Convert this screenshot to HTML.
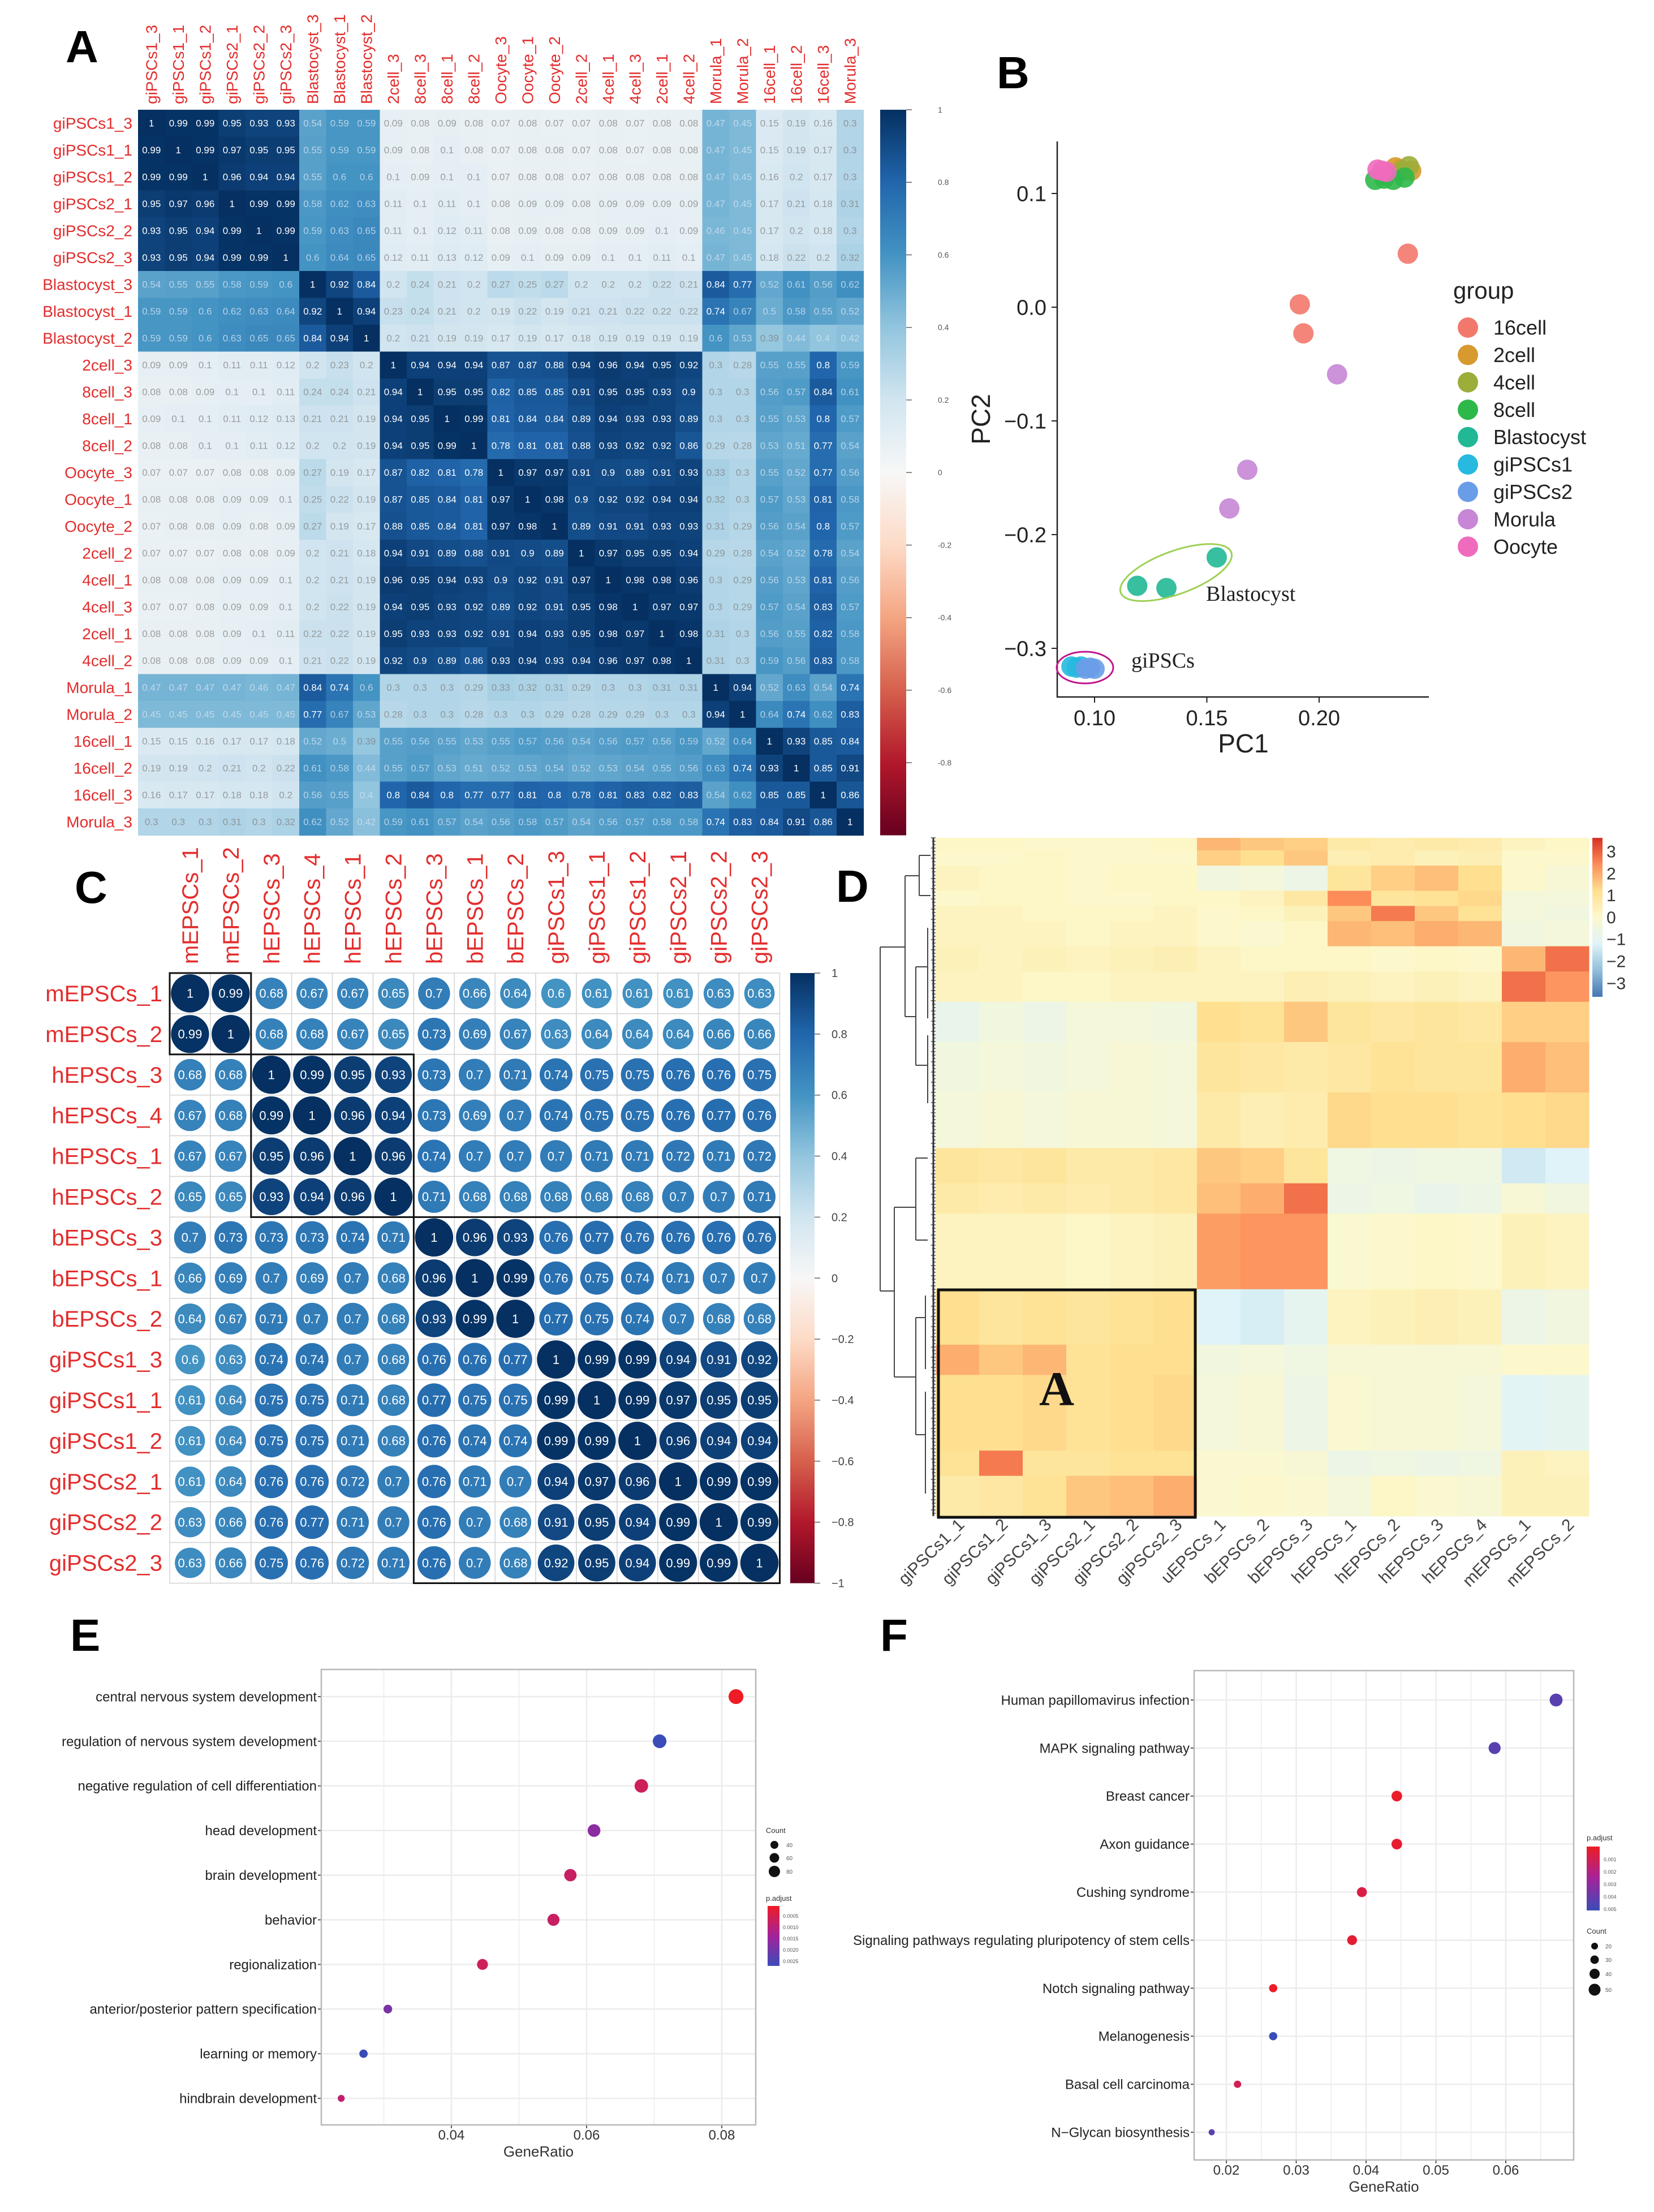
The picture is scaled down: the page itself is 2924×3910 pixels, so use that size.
<!DOCTYPE html>
<html><head><meta charset="utf-8">
<style>
html,body{margin:0;padding:0;background:#fff;}
svg{display:block;font-family:"Liberation Sans",Arial,sans-serif;}
</style></head>
<body>
<svg id="fig" xmlns="http://www.w3.org/2000/svg" width="2924" height="3910" viewBox="0 0 2924 3910">
<rect x="0" y="0" width="2924" height="3910" fill="#fff"/>
<text x="116" y="110" font-size="80" font-weight="bold">A</text>
<text x="1762" y="156" font-size="80" font-weight="bold">B</text>
<text x="132" y="1596" font-size="80" font-weight="bold">C</text>
<text x="1478" y="1594" font-size="80" font-weight="bold">D</text>
<text x="124" y="2918" font-size="80" font-weight="bold">E</text>
<text x="1556" y="2918" font-size="80" font-weight="bold">F</text>
<g id="gA"></g>
<g id="gB"></g>
<g id="gC"></g>
<g id="gD"></g>
<g id="gE"></g>
<g id="gF"></g>
</svg>
<script>
// ---------- DATA ----------
const aLabels = ["giPSCs1_3","giPSCs1_1","giPSCs1_2","giPSCs2_1","giPSCs2_2","giPSCs2_3","Blastocyst_3","Blastocyst_1","Blastocyst_2","2cell_3","8cell_3","8cell_1","8cell_2","Oocyte_3","Oocyte_1","Oocyte_2","2cell_2","4cell_1","4cell_3","2cell_1","4cell_2","Morula_1","Morula_2","16cell_1","16cell_2","16cell_3","Morula_3"];
const aMatrix = [
[1,.99,.99,.95,.93,.93,.54,.59,.59,.09,.08,.09,.08,.07,.08,.07,.07,.08,.07,.08,.08,.47,.45,.15,.19,.16,.3],
[.99,1,.99,.97,.95,.95,.55,.59,.59,.09,.08,.1,.08,.07,.08,.08,.07,.08,.07,.08,.08,.47,.45,.15,.19,.17,.3],
[.99,.99,1,.96,.94,.94,.55,.6,.6,.1,.09,.1,.1,.07,.08,.08,.07,.08,.08,.08,.08,.47,.45,.16,.2,.17,.3],
[.95,.97,.96,1,.99,.99,.58,.62,.63,.11,.1,.11,.1,.08,.09,.09,.08,.09,.09,.09,.09,.47,.45,.17,.21,.18,.31],
[.93,.95,.94,.99,1,.99,.59,.63,.65,.11,.1,.12,.11,.08,.09,.08,.08,.09,.09,.1,.09,.46,.45,.17,.2,.18,.3],
[.93,.95,.94,.99,.99,1,.6,.64,.65,.12,.11,.13,.12,.09,.1,.09,.09,.1,.1,.11,.1,.47,.45,.18,.22,.2,.32],
[.54,.55,.55,.58,.59,.6,1,.92,.84,.2,.24,.21,.2,.27,.25,.27,.2,.2,.2,.22,.21,.84,.77,.52,.61,.56,.62],
[.59,.59,.6,.62,.63,.64,.92,1,.94,.23,.24,.21,.2,.19,.22,.19,.21,.21,.22,.22,.22,.74,.67,.5,.58,.55,.52],
[.59,.59,.6,.63,.65,.65,.84,.94,1,.2,.21,.19,.19,.17,.19,.17,.18,.19,.19,.19,.19,.6,.53,.39,.44,.4,.42],
[.09,.09,.1,.11,.11,.12,.2,.23,.2,1,.94,.94,.94,.87,.87,.88,.94,.96,.94,.95,.92,.3,.28,.55,.55,.8,.59],
[.08,.08,.09,.1,.1,.11,.24,.24,.21,.94,1,.95,.95,.82,.85,.85,.91,.95,.95,.93,.9,.3,.3,.56,.57,.84,.61],
[.09,.1,.1,.11,.12,.13,.21,.21,.19,.94,.95,1,.99,.81,.84,.84,.89,.94,.93,.93,.89,.3,.3,.55,.53,.8,.57],
[.08,.08,.1,.1,.11,.12,.2,.2,.19,.94,.95,.99,1,.78,.81,.81,.88,.93,.92,.92,.86,.29,.28,.53,.51,.77,.54],
[.07,.07,.07,.08,.08,.09,.27,.19,.17,.87,.82,.81,.78,1,.97,.97,.91,.9,.89,.91,.93,.33,.3,.55,.52,.77,.56],
[.08,.08,.08,.09,.09,.1,.25,.22,.19,.87,.85,.84,.81,.97,1,.98,.9,.92,.92,.94,.94,.32,.3,.57,.53,.81,.58],
[.07,.08,.08,.09,.08,.09,.27,.19,.17,.88,.85,.84,.81,.97,.98,1,.89,.91,.91,.93,.93,.31,.29,.56,.54,.8,.57],
[.07,.07,.07,.08,.08,.09,.2,.21,.18,.94,.91,.89,.88,.91,.9,.89,1,.97,.95,.95,.94,.29,.28,.54,.52,.78,.54],
[.08,.08,.08,.09,.09,.1,.2,.21,.19,.96,.95,.94,.93,.9,.92,.91,.97,1,.98,.98,.96,.3,.29,.56,.53,.81,.56],
[.07,.07,.08,.09,.09,.1,.2,.22,.19,.94,.95,.93,.92,.89,.92,.91,.95,.98,1,.97,.97,.3,.29,.57,.54,.83,.57],
[.08,.08,.08,.09,.1,.11,.22,.22,.19,.95,.93,.93,.92,.91,.94,.93,.95,.98,.97,1,.98,.31,.3,.56,.55,.82,.58],
[.08,.08,.08,.09,.09,.1,.21,.22,.19,.92,.9,.89,.86,.93,.94,.93,.94,.96,.97,.98,1,.31,.3,.59,.56,.83,.58],
[.47,.47,.47,.47,.46,.47,.84,.74,.6,.3,.3,.3,.29,.33,.32,.31,.29,.3,.3,.31,.31,1,.94,.52,.63,.54,.74],
[.45,.45,.45,.45,.45,.45,.77,.67,.53,.28,.3,.3,.28,.3,.3,.29,.28,.29,.29,.3,.3,.94,1,.64,.74,.62,.83],
[.15,.15,.16,.17,.17,.18,.52,.5,.39,.55,.56,.55,.53,.55,.57,.56,.54,.56,.57,.56,.59,.52,.64,1,.93,.85,.84],
[.19,.19,.2,.21,.2,.22,.61,.58,.44,.55,.57,.53,.51,.52,.53,.54,.52,.53,.54,.55,.56,.63,.74,.93,1,.85,.91],
[.16,.17,.17,.18,.18,.2,.56,.55,.4,.8,.84,.8,.77,.77,.81,.8,.78,.81,.83,.82,.83,.54,.62,.85,.85,1,.86],
[.3,.3,.3,.31,.3,.32,.62,.52,.42,.59,.61,.57,.54,.56,.58,.57,.54,.56,.57,.58,.58,.74,.83,.84,.91,.86,1]];
const aTicks = [1,0.8,0.6,0.4,0.2,0,-0.2,-0.4,-0.6,-0.8];

const bGroups = ["16cell","2cell","4cell","8cell","Blastocyst","giPSCs1","giPSCs2","Morula","Oocyte"];
const bColors = ["#f2786c","#d69a2e","#9cad3a","#2fb84a","#22b896","#27b9df","#6a9de8","#c786d6","#ef6bbd"];
const bPC1 = [0.2395,0.1914,0.193, 0.234,0.241,0.236, 0.240,0.237, 0.225,0.229,0.233,0.238, 0.1544,0.119,0.132, 0.0897,0.092,0.094, 0.096,0.098,0.100, 0.208,0.168,0.160, 0.226,0.228,0.230];
const bPC2 = [0.047,0.0025,-0.023, 0.123,0.12,0.121, 0.124,0.12, 0.112,0.113,0.112,0.114, -0.220,-0.245,-0.247, -0.316,-0.317,-0.316, -0.318,-0.317,-0.318, -0.059,-0.143,-0.177, 0.121,0.120,0.119];
const bGroupIdx = [0,0,0, 1,1,1, 2,2, 3,3,3,3, 4,4,4, 5,5,5, 6,6,6, 7,7,7, 8,8,8];
const bXTicks = [0.10,0.15,0.20];
const bYTicks = [0.1,0.0,-0.1,-0.2,-0.3];

const cLabels = ["mEPSCs_1","mEPSCs_2","hEPSCs_3","hEPSCs_4","hEPSCs_1","hEPSCs_2","bEPSCs_3","bEPSCs_1","bEPSCs_2","giPSCs1_3","giPSCs1_1","giPSCs1_2","giPSCs2_1","giPSCs2_2","giPSCs2_3"];
const cMatrix = [
[1,.99,.68,.67,.67,.65,.7,.66,.64,.6,.61,.61,.61,.63,.63],
[.99,1,.68,.68,.67,.65,.73,.69,.67,.63,.64,.64,.64,.66,.66],
[.68,.68,1,.99,.95,.93,.73,.7,.71,.74,.75,.75,.76,.76,.75],
[.67,.68,.99,1,.96,.94,.73,.69,.7,.74,.75,.75,.76,.77,.76],
[.67,.67,.95,.96,1,.96,.74,.7,.7,.7,.71,.71,.72,.71,.72],
[.65,.65,.93,.94,.96,1,.71,.68,.68,.68,.68,.68,.7,.7,.71],
[.7,.73,.73,.73,.74,.71,1,.96,.93,.76,.77,.76,.76,.76,.76],
[.66,.69,.7,.69,.7,.68,.96,1,.99,.76,.75,.74,.71,.7,.7],
[.64,.67,.71,.7,.7,.68,.93,.99,1,.77,.75,.74,.7,.68,.68],
[.6,.63,.74,.74,.7,.68,.76,.76,.77,1,.99,.99,.94,.91,.92],
[.61,.64,.75,.75,.71,.68,.77,.75,.75,.99,1,.99,.97,.95,.95],
[.61,.64,.75,.75,.71,.68,.76,.74,.74,.99,.99,1,.96,.94,.94],
[.61,.64,.76,.76,.72,.7,.76,.71,.7,.94,.97,.96,1,.99,.99],
[.63,.66,.76,.77,.71,.7,.76,.7,.68,.91,.95,.94,.99,1,.99],
[.63,.66,.75,.76,.72,.71,.76,.7,.68,.92,.95,.94,.99,.99,1]];
const cBlocks = [[0,1],[2,5],[6,14]];
const cTicks = [1,0.8,0.6,0.4,0.2,0,-0.2,-0.4,-0.6,-0.8,-1];

const dCols = ["giPSCs1_1","giPSCs1_2","giPSCs1_3","giPSCs2_1","giPSCs2_2","giPSCs2_3","uEPSCs_1","bEPSCs_2","bEPSCs_3","hEPSCs_1","hEPSCs_2","hEPSCs_3","hEPSCs_4","mEPSCs_1","mEPSCs_2"];
const dBandGenes = [5,6,10,6,6,10,10,12,16,20,22,14,12,30,22,12,30,10,16];
const dBandValues = [
[.1,.1,0,0,0,.1, 1.5,1.3,1.2, .6,.5,.6,.5, .2,.1],
[0,0,.1,0,0,0, 1.2,1.0,1.3, .4,.5,.3,.4, 0,0],
[.2,.1,.1,0,.1,.1, -.4,-.3,-.6, .8,1.2,1.4,1.0, 0,-.2],
[0,.1,.1,0,0,.1, .1,.2,.7, 2.0,.8,.9,1.1, -.3,-.3],
[.2,.2,.1,.1,.1,.2, 0,.1,.3, 1.3,2.2,1.3,.9, -.3,-.4],
[.2,.2,.2,.1,.2,.2, 0,-.1,.1, 1.5,1.4,1.6,1.5, -.4,-.3],
[.3,.2,.3,.2,.3,.4, .2,.1,.1, .1,0,.1,0, 1.5,2.3],
[.2,.2,.1,.1,.2,.2, .2,.2,.4, .3,.2,.3,.2, 2.3,1.9],
[-.7,-.4,-.6,-.3,-.3,-.4, 1.0,.9,1.3, .8,.7,.8,.7, 1.2,1.2],
[-.4,-.3,-.4,-.3,-.2,-.3, .8,.7,.6, .7,.9,.8,.8, 1.6,1.4],
[-.3,-.2,-.3,-.2,-.2,-.3, .6,.4,.5, 1.1,1.0,1.0,.9, 1.0,1.1],
[.8,.7,.8,.6,.6,.7, 1.3,1.2,.8, -.5,-.6,-.5,-.5, -1.2,-1.0],
[.6,.5,.6,.5,.6,.7, 1.4,1.6,2.3, -.6,-.5,-.7,-.6, -.2,-.4],
[.2,.2,.2,.1,.2,.3, 1.8,1.9,1.9, -.1,0,.1,0, .3,.2],
[1.0,.8,.9,.8,.9,1.0, -1.0,-1.1,-.8, .2,.3,.4,.3, -.6,-.4],
[1.6,1.3,1.5,.9,1.0,1.0, -.4,-.3,-.5, -.2,-.2,-.2,-.2, 0,0],
[1.0,1.0,1.1,.9,1.0,1.1, -.3,-.2,-.6, -.1,-.2,-.2,-.3, -.9,-.8],
[.9,2.2,.8,.8,.9,.9, -.1,-.1,-.2, -.6,-.5,-.6,-.5, .3,.2],
[.6,.7,.9,1.3,1.4,1.6, -.1,0,-.1, -.3,.1,-.1,-.2, .3,.3]];
const dTicks = [3,2,1,0,-1,-2,-3];

const eTerms = ["central nervous system development","regulation of nervous system development","negative regulation of cell differentiation","head development","brain development","behavior","regionalization","anterior/posterior pattern specification","learning or memory","hindbrain development"];
const eRatio = [0.0821,0.0708,0.0681,0.0611,0.0576,0.0551,0.0446,0.0306,0.0270,0.0237];
const eCount = [82,70,68,60,57,54,44,28,26,18];
const ePadj = [0.0003,0.0026,0.0008,0.0017,0.0009,0.0009,0.0008,0.0019,0.0026,0.0010];
const eXTicks = [0.04,0.06,0.08];

const fTerms = ["Human papillomavirus infection","MAPK signaling pathway","Breast cancer","Axon guidance","Cushing syndrome","Signaling pathways regulating pluripotency of stem cells","Notch signaling pathway","Melanogenesis","Basal cell carcinoma","N\u2212Glycan biosynthesis"];
const fRatio = [0.0672,0.0584,0.0444,0.0444,0.0394,0.0380,0.0267,0.0267,0.0216,0.0179];
const fCount = [62,54,42,42,37,36,25,25,20,14];
const fPadj = [0.0045,0.0045,0.0007,0.0008,0.0012,0.0009,0.0006,0.0052,0.0015,0.0045];
const fXTicks = [0.02,0.03,0.04,0.05,0.06];

// ---------- HELPERS ----------
const NS = "http://www.w3.org/2000/svg";
function el(parent, tag, attrs, txt){
  const e = document.createElementNS(NS, tag);
  for (const k in attrs) e.setAttribute(k, attrs[k]);
  if (txt !== undefined) e.textContent = txt;
  parent.appendChild(e);
  return e;
}
function hex(h){return [parseInt(h.slice(1,3),16),parseInt(h.slice(3,5),16),parseInt(h.slice(5,7),16)];}
function ramp(stops, cols, v){
  if (v <= stops[0]) return cols[0];
  for (let i=1;i<stops.length;i++){
    if (v <= stops[i]){
      const t=(v-stops[i-1])/(stops[i]-stops[i-1]);
      const a=hex(cols[i-1]), b=hex(cols[i]);
      return "rgb("+a.map((x,j)=>Math.round(x+(b[j]-x)*t)).join(",")+")";
    }
  }
  return cols[cols.length-1];
}
const rbStops=[-1,-0.8,-0.6,-0.4,-0.2,0,0.2,0.4,0.6,0.8,1];
const rbCols=["#67001f","#b2182b","#d6604d","#f4a582","#fddbc7","#f7f7f7","#d1e5f0","#92c5de","#4393c3","#2166ac","#053061"];
function corrColor(v){return ramp(rbStops,rbCols,v);}
const ryStops=[-3,-2,-1,0,1,2,3];
const ryCols=["#4575b4","#91bfdb","#e0f3f8","#fdf8cc","#fee090","#fc8d59","#d73027"];
function heatColor(v){return ramp(ryStops,ryCols,v);}
function padjColor(p,lo,hi){const t=Math.max(0,Math.min(1,(p-lo)/(hi-lo)));return ramp([0,0.5,1],["#ee1c25","#a3239a","#3a4cb8"],t);}
const defs = el(document.getElementById("fig"),"defs",{});
function vgrad(id, stops, cols){
  const g = el(defs,"linearGradient",{id:id,x1:0,y1:0,x2:0,y2:1});
  stops.forEach((s,i)=>el(g,"stop",{offset:s,"stop-color":cols[i]}));
}

// ---------- PANEL A ----------
(function(){
  const g=document.getElementById("gA");
  const x0=244,y0=194,cs=47.5,n=aLabels.length;
  const red="#e32d2d";
  for(let i=0;i<n;i++){
    const t=el(g,"text",{x:234,y:y0+(i+0.5)*cs,dy:"0.35em","text-anchor":"end","font-size":28,fill:red},aLabels[i]);
    
    
    const cx=x0+(i+0.5)*cs;
    const c=el(g,"text",{x:cx,y:184,dy:"0.35em","font-size":28,fill:red,transform:"rotate(-90 "+cx+" 184)"},aLabels[i]);
    
    
  }
  for(let i=0;i<n;i++)for(let j=0;j<n;j++){
    const v=aMatrix[i][j];
    const r=el(g,"rect",{x:x0+j*cs,y:y0+i*cs,width:cs+0.6,height:cs+0.6,fill:corrColor(v)});
    
    
    const t=el(g,"text",{x:x0+(j+0.5)*cs,y:y0+(i+0.5)*cs,dy:"0.35em","text-anchor":"middle","font-size":17,fill:v>=0.7?"#fff":(v>=0.4?"rgba(210,225,240,0.8)":"rgba(130,130,130,0.75)")},String(v).replace(/^0\./,"0."));
    
    
  }
  vgrad("gradA",rbStops.map((s,i)=>1-i/10).reverse(),rbCols.slice().reverse());
  const cb=el(g,"rect",{x:1556,y:y0,width:46,height:n*cs,fill:"url(#gradA)"});
  
  
  const H=n*cs;
  aTicks.forEach(v=>{
    const y=y0+(1-v)/2*H;
    el(g,"line",{x1:1602,x2:1612,y1:y,y2:y,stroke:"#666","stroke-width":1.5});
    const t=el(g,"text",{x:1658,y:y,dy:"0.35em","font-size":14,fill:"#555"},String(v));
    
    
  });
})();

// ---------- PANEL B ----------
(function(){
  const g=document.getElementById("gB");
  const X=v=>1935+(v-0.1)*3970, Y=v=>543-v*2010;
  const ax=el(g,"path",{d:"M1869 250 V1232 H2526",fill:"none",stroke:"#222","stroke-width":2.5});
  
  
  bXTicks.forEach(v=>{
    el(g,"line",{x1:X(v),x2:X(v),y1:1232,y2:1242,stroke:"#222","stroke-width":2});
    const t=el(g,"text",{x:X(v),y:1282,"text-anchor":"middle","font-size":38,fill:"#222"},v.toFixed(2));
    
    
  });
  bYTicks.forEach(v=>{
    el(g,"line",{x1:1859,x2:1869,y1:Y(v),y2:Y(v),stroke:"#222","stroke-width":2});
    const t=el(g,"text",{x:1850,y:Y(v),dy:"0.35em","text-anchor":"end","font-size":38,fill:"#222"},(v<0?"\u2212":"")+Math.abs(v).toFixed(1));
    
    
  });
  const xt=el(g,"text",{x:2198,y:1330,"text-anchor":"middle","font-size":46,fill:"#222"},"PC1");
  
  
  const yt=el(g,"text",{x:1750,y:741,"text-anchor":"middle","font-size":46,fill:"#222",transform:"rotate(-90 1750 741)"},"PC2");
  
  
  bPC1.forEach((v,i)=>{
    const c=el(g,"circle",{cx:X(v),cy:Y(bPC2[i]),r:18,fill:bColors[bGroupIdx[i]],opacity:0.9});
    
    
  });
  const e1=el(g,"ellipse",{cx:2079,cy:1012,rx:104,ry:38,fill:"none",stroke:"#9fd056","stroke-width":3,transform:"rotate(-20 2079 1012)"});
  
  
  const e2=el(g,"ellipse",{cx:1918,cy:1180,rx:50,ry:28,fill:"none",stroke:"#c0168c","stroke-width":3});
  
  
  const l1=el(g,"text",{x:2132,y:1062,"font-size":38,"font-family":"Liberation Serif, serif",fill:"#222"},"Blastocyst");
  
  
  const l2=el(g,"text",{x:2000,y:1180,"font-size":38,"font-family":"Liberation Serif, serif",fill:"#222"},"giPSCs");
  
  
  const lt=el(g,"text",{x:2569,y:528,"font-size":42,fill:"#222"},"group");
  
  
  bGroups.forEach((nm,i)=>{
    const y=579+i*48.4;
    const c=el(g,"circle",{cx:2595,cy:y,r:18,fill:bColors[i]});
    
    
    const t=el(g,"text",{x:2640,y:y,dy:"0.35em","font-size":36,fill:"#222"},nm);
    
    
  });
})();

// ---------- PANEL C ----------
(function(){
  const g=document.getElementById("gC");
  const x0=300,y0=1720,cs=71.9,n=cLabels.length,red="#e32d2d";
  for(let i=0;i<n;i++){
    const t=el(g,"text",{x:287,y:y0+(i+0.5)*cs,dy:"0.35em","text-anchor":"end","font-size":40,fill:red},cLabels[i]);
    
    
    const cx=x0+(i+0.5)*cs;
    const c=el(g,"text",{x:cx,y:1704,dy:"0.35em","font-size":40,fill:red,transform:"rotate(-90 "+cx+" 1704)"},cLabels[i]);
    
    
  }
  for(let i=0;i<n;i++)for(let j=0;j<n;j++){
    const v=cMatrix[i][j];
    el(g,"rect",{x:x0+j*cs,y:y0+i*cs,width:cs,height:cs,fill:"#fff",stroke:"#d4d4d4","stroke-width":1.5});
    const c=el(g,"circle",{cx:x0+(j+0.5)*cs,cy:y0+(i+0.5)*cs,r:0.47*cs*Math.sqrt(Math.abs(v)),fill:corrColor(v)});
    
    
    const t=el(g,"text",{x:x0+(j+0.5)*cs,y:y0+(i+0.5)*cs,dy:"0.35em","text-anchor":"middle","font-size":22,fill:"#fff"},String(v));
    
    
  }
  cBlocks.forEach(b=>{
    const r=el(g,"rect",{x:x0+b[0]*cs,y:y0+b[0]*cs,width:(b[1]-b[0]+1)*cs,height:(b[1]-b[0]+1)*cs,fill:"none",stroke:"#111","stroke-width":3});
    
    
  });
  vgrad("gradC",rbStops.map((s,i)=>i/10),rbCols.slice().reverse());
  const H=n*cs;
  const cb=el(g,"rect",{x:1397,y:y0,width:43,height:H,fill:"url(#gradC)"});
  
  
  cTicks.forEach(v=>{
    const y=y0+(1-v)/2*H;
    el(g,"line",{x1:1440,x2:1450,y1:y,y2:y,stroke:"#666","stroke-width":1.5});
    const t=el(g,"text",{x:1470,y:y,dy:"0.35em","font-size":20,fill:"#444"},v>0?String(v):(v<0?"\u2212"+Math.abs(v):"0"));
    
    
  });
})();

// ---------- PANEL D ----------
(function(){
  const g=document.getElementById("gD");
  const x0=1654,y0=1481,cw=77,H=1199;
  const total=dBandGenes.reduce((a,b)=>a+b,0);
  let acc=0;
  dBandGenes.forEach((cnt,bi)=>{
    const y=y0+acc/total*H, h=cnt/total*H;
    dBandValues[bi].forEach((v,j)=>{
      const r=el(g,"rect",{x:x0+j*cw,y:y,width:cw+0.5,height:h+0.5,fill:heatColor(v)});
      
      
    });
    acc+=cnt;
  });
  // dendrogram
  const dp="M1556 1674 V2282 M1556 1674 H1600 M1556 2282 H1581 M1600 1548 V1797 M1600 1548 H1625 M1600 1797 H1619 M1625 1512 V1583 M1619 1709 V1883 M1581 2134 V2434 M1581 2134 H1619 M1581 2434 H1619 M1619 2047 V2192 M1619 2329 V2536 M1625 1512 H1645 M1625 1583 H1645 M1619 1709 H1640 M1619 1883 H1640 M1619 2047 H1640 M1619 2192 H1640 M1619 2329 H1636 M1619 2536 H1636 M1640 1640 V1800 M1640 1830 V1950 M1636 2290 V2420 M1636 2460 V2640";
  const dd=el(g,"path",{d:dp,fill:"none",stroke:"#444","stroke-width":2});
  
  
  let comb="";
  for(let y=y0;y<y0+H;y+=6){comb+="M"+(1644+(y%18)/3)+" "+y+" H1654 ";}
  el(g,"path",{d:comb,fill:"none",stroke:"#555","stroke-width":1.5});
  el(g,"line",{x1:1650,x2:1650,y1:y0,y2:y0+H,stroke:"#333","stroke-width":3});
  const bx=el(g,"rect",{x:1659,y:2280,width:454,height:402,fill:"none",stroke:"#111","stroke-width":5});
  
  
  const ba=el(g,"text",{x:1868,y:2484,"text-anchor":"middle","font-size":86,"font-weight":"bold","font-family":"Liberation Serif, serif",fill:"#111"},"A");
  
  
  dCols.forEach((nm,j)=>{
    const cx=x0+(j+0.5)*cw+14, cy=2697;
    const t=el(g,"text",{x:cx,y:cy,"text-anchor":"end","font-size":30,fill:"#444",transform:"rotate(-45 "+cx+" "+cy+")"},nm);
    
    
  });
  vgrad("gradD",[0,1/6,2/6,3/6,4/6,5/6,1],ryCols.slice().reverse());
  const cb=el(g,"rect",{x:2815,y:y0,width:18,height:281,fill:"url(#gradD)"});
  
  
  dTicks.forEach((v,i)=>{
    const y=1505+i*38.8;
    const t=el(g,"text",{x:2840,y:y,dy:"0.35em","font-size":30,fill:"#333"},v<0?"\u2212"+Math.abs(v):String(v));
    
    
  });
})();

// ---------- DOT PLOTS ----------
function dotplot(gid,box,terms,ratio,count,padj,xticks,X0,V0,scale,rowY0,rowStep,pl,ph,legend,prefix){
  const g=document.getElementById(gid);
  const X=v=>X0+(v-V0)*scale;
  const bg=el(g,"rect",{x:box[0],y:box[1],width:box[2]-box[0],height:box[3]-box[1],fill:"#fff"});
  
  
  const step=xticks[1]-xticks[0];
  for(let v=xticks[0]-step*1.5;v<xticks[xticks.length-1]+step*1.5;v+=step/2){
    const x=X(v); if(x<=box[0]||x>=box[2]) continue;
    el(g,"line",{x1:x,x2:x,y1:box[1],y2:box[3],stroke:"#f0f0f0","stroke-width":2});
  }
  terms.forEach((tm,i)=>{
    const y=rowY0+i*rowStep;
    el(g,"line",{x1:box[0],x2:box[2],y1:y,y2:y,stroke:"#ececec","stroke-width":2.5});
    el(g,"line",{x1:box[0]-6,x2:box[0],y1:y,y2:y,stroke:"#555","stroke-width":2});
    const t=el(g,"text",{x:box[0]-8,y:y,dy:"0.35em","text-anchor":"end","font-size":24,fill:"#222",textLength:undefined},tm);
    t.removeAttribute("textLength");
    
    
  });
  xticks.forEach(v=>{
    el(g,"line",{x1:X(v),x2:X(v),y1:box[1],y2:box[3],stroke:"#ebebeb","stroke-width":2.5});
    el(g,"line",{x1:X(v),x2:X(v),y1:box[3],y2:box[3]+6,stroke:"#555","stroke-width":2});
    const t=el(g,"text",{x:X(v),y:box[3]+26,"text-anchor":"middle","font-size":24,fill:"#333"},v.toFixed(2));
    
    
  });
  const bd=el(g,"rect",{x:box[0],y:box[1],width:box[2]-box[0],height:box[3]-box[1],fill:"none",stroke:"#b8b8b8","stroke-width":2.5});
  
  
  ratio.forEach((v,i)=>{
    const c=el(g,"circle",{cx:X(v),cy:rowY0+i*rowStep,r:1.45*Math.sqrt(count[i]),fill:padjColor(padj[i],pl,ph)});
    
    
  });
  const xt=el(g,"text",{x:(box[0]+box[2])/2,y:box[3]+56,"text-anchor":"middle","font-size":26,fill:"#333"},"GeneRatio");
  
  
  // legends
  legend(g);
}
dotplot("gE",[568,2951,1336,3756],eTerms,eRatio,eCount,ePadj,eXTicks,798,0.04,11950,2999,78.9,0.0003,0.0026,function(g){
  const t=el(g,"text",{x:1354,y:3240,"font-size":13,fill:"#333"},"Count");
  
  
  [3261,3284,3308].forEach((y,i)=>{
    el(g,"circle",{cx:1369,cy:y,r:7+i*1.5,fill:"#111"});
    el(g,"text",{x:1390,y:y+4,"font-size":10,fill:"#555"},["40","60","80"][i]);
  });
  const p=el(g,"text",{x:1354,y:3360,"font-size":13,fill:"#333"},"p.adjust");
  
  
  vgrad("gradE",[0,0.5,1],["#ee1c25","#a3239a","#3a4cb8"]);
  el(g,"rect",{x:1357,y:3369,width:21,height:106,fill:"url(#gradE)"});
  ["0.0005","0.0010","0.0015","0.0020","0.0025"].forEach((s,i)=>el(g,"text",{x:1384,y:3390+i*20,"font-size":9,fill:"#555"},s));
},"e");
dotplot("gF",[2111,2953,2782,3818],fTerms,fRatio,fCount,fPadj,fXTicks,2168,0.02,12350,3005,84.9,0.0006,0.0052,function(g){
  const p=el(g,"text",{x:2805,y:3253,"font-size":13,fill:"#333"},"p.adjust");
  
  
  vgrad("gradF",[0,0.5,1],["#ee1c25","#a3239a","#3a4cb8"]);
  el(g,"rect",{x:2805,y:3264,width:23,height:113,fill:"url(#gradF)"});
  ["0.001","0.002","0.003","0.004","0.005"].forEach((s,i)=>el(g,"text",{x:2835,y:3290+i*22,"font-size":9,fill:"#555"},s));
  const t=el(g,"text",{x:2805,y:3418,"font-size":13,fill:"#333"},"Count");
  
  
  [3440,3464,3489,3517].forEach((y,i)=>{
    el(g,"circle",{cx:2819,cy:y,r:6+i*1.5,fill:"#111"});
    el(g,"text",{x:2838,y:y+4,"font-size":10,fill:"#555"},["20","30","40","50"][i]);
  });
},"f");
</script>
</body></html>
